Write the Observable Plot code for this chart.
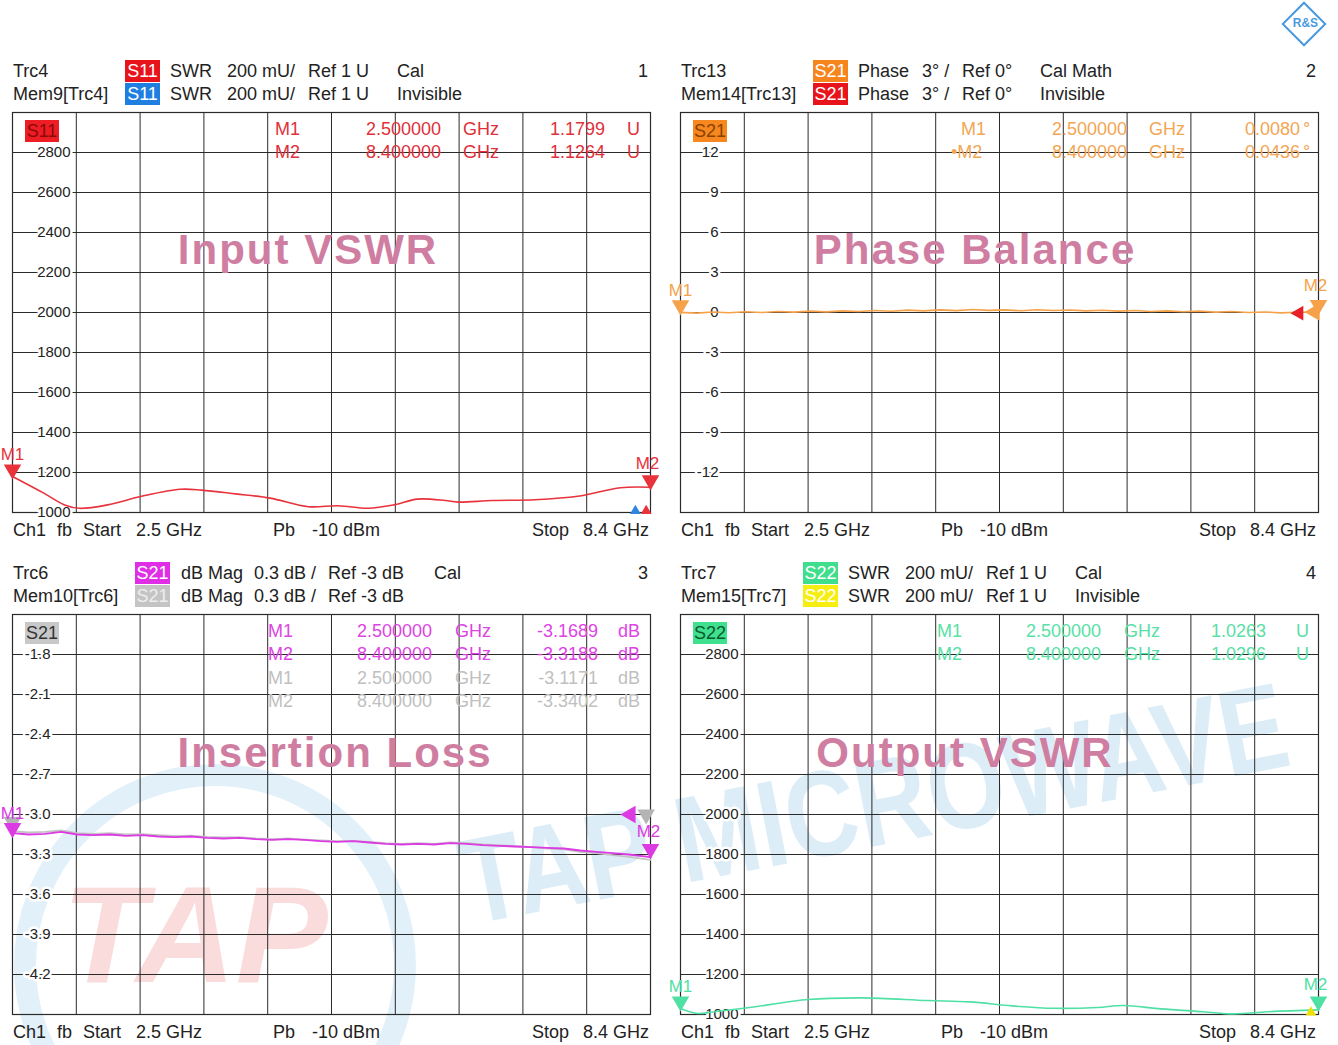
<!DOCTYPE html>
<html><head><meta charset="utf-8">
<script src="https://cdn.jsdelivr.net/npm/d3@7"></script>
<script src="https://cdn.jsdelivr.net/npm/@observablehq/plot@0.6"></script>
<style>
body{margin:0;background:#fff;}
#wrap{position:relative;width:1338px;height:1045px;overflow:hidden;font-family:"Liberation Sans",Arial,sans-serif;color:#222;background:#fff;}
.t{position:absolute;font-size:18px;line-height:22px;white-space:pre;z-index:3;}
.b{position:absolute;height:22px;line-height:22px;font-size:18px;text-align:center;z-index:3;}
.plot{position:absolute;z-index:2;}
.title{position:absolute;font-weight:bold;font-size:42px;color:#cf7ea2;letter-spacing:2px;transform:translate(-50%,-50%);white-space:nowrap;z-index:3;}
#wm{position:absolute;left:0;top:0;z-index:1;}
#logo{position:absolute;left:1288px;top:8px;width:28px;height:28px;border:2px solid #4a9ae0;transform:rotate(45deg);z-index:3;}
#logo span{position:absolute;left:0;top:5px;width:28px;text-align:center;transform:rotate(-45deg);font-size:12px;font-weight:bold;color:#4a9ae0;}
</style></head>
<body>
<div id="wrap">
<svg id="wm" width="1338" height="1045">
  <circle cx="215" cy="965" r="190" fill="none" stroke="#9fd0ea" stroke-opacity="0.3" stroke-width="22"/>
  <text x="62" y="982" font-size="138" font-weight="bold" font-style="italic" fill="#f08c8c" fill-opacity="0.3" font-family="Liberation Sans">TAP</text>
  <text transform="translate(470,925) rotate(-11) scale(0.82,1)" font-size="122" font-weight="bold" fill="#8cc4e6" fill-opacity="0.3" font-family="Liberation Sans">TAP MICROWAVE</text>
</svg>
<div id="logo"><span>R&amp;S</span></div>
</div>
<script>
// ---------- data ----------
const fStart = 2.5, fStop = 8.4;
const xGrid = [2.5, 3.09, 3.68, 4.27, 4.86, 5.45, 6.04, 6.63, 7.22, 7.81, 8.4];

const swrTicks = [1000, 1200, 1400, 1600, 1800, 2000, 2200, 2400, 2600, 2800];
const phaseTicks = [-12, -9, -6, -3, 0, 3, 6, 9, 12];
const dbTicks = [-4.2, -3.9, -3.6, -3.3, -3.0, -2.7, -2.4, -2.1, -1.8];

// Input VSWR (S11), milli-units
const s11F = [2.5, 2.785, 2.982, 3.121, 3.378, 3.694, 4.05, 4.248, 4.564, 4.881, 5.236, 5.513, 5.79, 6.027, 6.245, 6.502, 6.621, 6.937, 7.332, 7.728, 8.123, 8.4];
const s11V = [1180, 1098, 1038, 1021, 1038, 1081, 1116, 1112, 1093, 1072, 1029, 1034, 1021, 1038, 1067, 1060, 1052, 1060, 1064, 1081, 1124, 1126];

// Phase balance (S21), degrees
const phF = [2.5, 2.65, 2.8, 2.95, 3.1, 3.25, 3.4, 3.55, 3.7, 3.85, 4.0, 4.15, 4.3, 4.45, 4.6, 4.75, 4.9, 5.05, 5.2, 5.35, 5.5, 5.65, 5.8, 5.95, 6.1, 6.25, 6.4, 6.55, 6.7, 6.85, 7.0, 7.15, 7.3, 7.45, 7.6, 7.75, 7.9, 8.05, 8.2, 8.4];
const phV = [0.01, -0.05, 0.04, -0.02, 0.06, 0.0, 0.08, 0.03, 0.1, 0.05, 0.12, 0.07, 0.15, 0.09, 0.18, 0.12, 0.2, 0.14, 0.22, 0.16, 0.2, 0.13, 0.21, 0.15, 0.19, 0.12, 0.17, 0.1, 0.15, 0.08, 0.12, 0.06, 0.1, 0.03, 0.07, 0.0, 0.04, -0.03, 0.02, 0.04];

// Insertion loss (S21 dB), trace and memory
const ilF = [2.5, 2.65, 2.8, 2.95, 3.1, 3.25, 3.4, 3.55, 3.7, 3.85, 4.0, 4.15, 4.3, 4.45, 4.6, 4.75, 4.9, 5.05, 5.2, 5.35, 5.5, 5.65, 5.8, 5.95, 6.1, 6.25, 6.4, 6.55, 6.7, 6.85, 7.0, 7.15, 7.3, 7.45, 7.6, 7.75, 7.9, 8.05, 8.2, 8.4];
const ilV = [-3.14, -3.15, -3.145, -3.13, -3.15, -3.155, -3.15, -3.16, -3.155, -3.165, -3.17, -3.165, -3.175, -3.18, -3.175, -3.185, -3.19, -3.185, -3.19, -3.2, -3.205, -3.2, -3.21, -3.22, -3.225, -3.22, -3.225, -3.215, -3.22, -3.23, -3.235, -3.24, -3.245, -3.25, -3.255, -3.27, -3.28, -3.29, -3.3, -3.32];
const ilMem = [-3.125, -3.135, -3.13, -3.12, -3.14, -3.145, -3.14, -3.15, -3.148, -3.155, -3.16, -3.158, -3.168, -3.172, -3.17, -3.18, -3.185, -3.18, -3.188, -3.195, -3.2, -3.198, -3.205, -3.215, -3.22, -3.215, -3.22, -3.21, -3.215, -3.225, -3.23, -3.238, -3.245, -3.255, -3.262, -3.28, -3.29, -3.305, -3.318, -3.34];

// Output VSWR (S22), milli-units
const s22F = [2.5, 2.657, 2.815, 3.208, 3.68, 4.191, 4.781, 5.175, 5.568, 5.961, 6.355, 6.591, 6.945, 7.338, 7.613, 7.928, 8.4];
const s22V = [1030, 1005, 1014, 1040, 1075, 1083, 1070, 1063, 1043, 1031, 1035, 1045, 1028, 1014, 1003, 1014, 1023];

// ---------- helpers ----------
const wrap = document.getElementById("wrap");
function txt(s, x, y, opt = {}) {
  const d = document.createElement("div");
  d.className = "t";
  d.textContent = s;
  d.style.top = (y - 11) + "px";
  if (opt.end) d.style.right = (1338 - x) + "px"; else d.style.left = x + "px";
  if (opt.color) d.style.color = opt.color;
  if (opt.size) d.style.fontSize = opt.size + "px";
  wrap.appendChild(d);
}
function badge(s, x, y, bg, fg, w = 35) {
  const d = document.createElement("div");
  d.className = "b";
  d.textContent = s;
  d.style.left = x + "px"; d.style.top = (y - 11) + "px"; d.style.width = w + "px";
  d.style.background = bg; d.style.color = fg;
  wrap.appendChild(d);
}
function title(s, x, y) {
  const d = document.createElement("div");
  d.className = "title"; d.textContent = s;
  d.style.left = x + "px"; d.style.top = y + "px";
  wrap.appendChild(d);
}

function panel(o) {
  const data = o.f.map((f, i) => ({f, v: o.v[i]}));
  const marks = [
    Plot.ruleX(xGrid, {stroke: "#2a2a2a", strokeWidth: 1}),
    Plot.ruleY(o.grid, {stroke: "#2a2a2a", strokeWidth: 1}),
    Plot.frame({stroke: "#2a2a2a", strokeWidth: 1.2}),
    Plot.text(o.labels, {frameAnchor: "left", y: d => d, text: o.fmt, dx: o.dx, textAnchor: "end",
      fill: "#222", stroke: "white", strokeWidth: 5, paintOrder: "stroke", fontSize: 15})
  ];
  if (o.mem) {
    const md = o.f.map((f, i) => ({f, v: o.mem[i]}));
    marks.push(Plot.line(md, {x: "f", y: "v", stroke: o.memColor, strokeWidth: 1.8, curve: "linear"}));
  }
  marks.push(Plot.line(data, {x: "f", y: "v", stroke: o.color, strokeWidth: o.sw || 1.6, curve: o.curve || "linear"}));
  for (const m of o.markers) {
    marks.push(Plot.dot([m], {x: "f", y: "v", symbol: "triangle", rotate: m.rot, r: m.r || 6.5, fill: m.c, stroke: "none", dx: m.dx || 0, dy: m.dy || 0}));
    if (m.label) marks.push(Plot.text([m], {x: "f", y: "v", text: "label", fill: m.c, dy: m.ly, dx: m.lx || 0, fontSize: 17}));
  }
  const svg = Plot.plot({
    width: 669, height: 440,
    marginLeft: o.ml, marginRight: o.mr, marginTop: 12, marginBottom: 28,
    x: {domain: [fStart, fStop], axis: null},
    y: {domain: o.domain, axis: null},
    style: {background: "transparent", fontFamily: "Liberation Sans, Arial, sans-serif", overflow: "visible"},
    marks
  });
  svg.classList.add("plot");
  svg.style.left = o.left + "px"; svg.style.top = o.top + "px";
  svg.style.position = "absolute";
  wrap.appendChild(svg);
}

// ---------- panels ----------
const red = "#e8323c", orange = "#f5a24a", mag = "#dc3ae2", grey = "#b4b4b4", green = "#4fe0a4";

panel({left: 0, top: 100, ml: 12, mr: 19, domain: [1000, 3000], grid: swrTicks.slice(1), labels: swrTicks,
  fmt: d => String(d), dx: 58, f: s11F, v: s11V, color: red, curve: "catmull-rom",
  markers: [
    {f: 2.5, v: 1180, rot: 180, c: red, dy: -7, label: "M1", ly: -22},
    {f: 8.4, v: 1126, rot: 180, c: red, dy: -7, label: "M2", ly: -24, lx: -3},
    {f: 8.26, v: 1008, rot: 0, c: "#2f86e0", r: 4},
    {f: 8.36, v: 1008, rot: 0, c: red, r: 4}
  ]});

panel({left: 669, top: 100, ml: 11, mr: 20, domain: [-15, 15], grid: phaseTicks, labels: phaseTicks,
  fmt: d => String(d), dx: 38, f: phF, v: phV, color: orange,
  markers: [
    {f: 2.5, v: 0.01, rot: 180, c: orange, dy: -7, label: "M1", ly: -22},
    {f: 8.22, v: -0.05, rot: -90, c: "#e8202a", r: 5.5},
    {f: 8.4, v: 0.04, rot: -90, c: orange, dx: -4},
    {f: 8.4, v: 0.04, rot: 180, c: orange, dy: -7, label: "M2", ly: -26, lx: -3}
  ]});

panel({left: 0, top: 602, ml: 12, mr: 19, domain: [-4.5, -1.5], grid: dbTicks, labels: dbTicks,
  fmt: d => d.toFixed(1), dx: 38, f: ilF, v: ilV, mem: ilMem, memColor: "#c4c4c4", color: mag, sw: 1.9,
  markers: [
    {f: 2.5, v: -3.125, rot: 180, c: grey, dy: -9},
    {f: 2.5, v: -3.14, rot: 180, c: mag, dy: -5, label: "M1", ly: -20},
    {f: 8.215, v: -3.0, rot: -90, c: mag},
    {f: 8.36, v: -3.0, rot: 180, c: grey},
    {f: 8.4, v: -3.32, rot: 180, c: mag, dy: -8, label: "M2", ly: -26, lx: -2}
  ]});

panel({left: 669, top: 602, ml: 11, mr: 20, domain: [1000, 3000], grid: swrTicks.slice(1), labels: swrTicks,
  fmt: d => String(d), dx: 58, f: s22F, v: s22V, color: green, curve: "catmull-rom",
  markers: [
    {f: 2.5, v: 1030, rot: 180, c: green, dy: -7, label: "M1", ly: -22},
    {f: 8.33, v: 1010, rot: 0, c: "#f0e000", r: 4},
    {f: 8.4, v: 1030, rot: 180, c: green, dy: -7, label: "M2", ly: -24, lx: -3}
  ]});

// ---------- headers ----------
// panel 1
txt("Trc4", 13, 71); badge("S11", 125, 71, "#e8141c", "#fff");
txt("SWR", 170, 71); txt("200 mU/", 227, 71); txt("Ref 1 U", 308, 71); txt("Cal", 397, 71); txt("1", 648, 71, {end: true});
txt("Mem9[Trc4]", 13, 94); badge("S11", 125, 94, "#1e7fe0", "#fff");
txt("SWR", 170, 94); txt("200 mU/", 227, 94); txt("Ref 1 U", 308, 94); txt("Invisible", 397, 94);
// panel 2
txt("Trc13", 681, 71); badge("S21", 813, 71, "#f7851e", "#fff");
txt("Phase", 858, 71); txt("3° /", 922, 71); txt("Ref 0°", 962, 71); txt("Cal Math", 1040, 71); txt("2", 1316, 71, {end: true});
txt("Mem14[Trc13]", 681, 94); badge("S21", 813, 94, "#e8141c", "#fff");
txt("Phase", 858, 94); txt("3° /", 922, 94); txt("Ref 0°", 962, 94); txt("Invisible", 1040, 94);
// panel 3
txt("Trc6", 13, 573); badge("S21", 135, 573, "#e02ee6", "#fff");
txt("dB Mag", 181, 573); txt("0.3 dB /", 254, 573); txt("Ref -3 dB", 328, 573); txt("Cal", 434, 573); txt("3", 648, 573, {end: true});
txt("Mem10[Trc6]", 13, 596); badge("S21", 135, 596, "#c4c4c4", "#eee");
txt("dB Mag", 181, 596); txt("0.3 dB /", 254, 596); txt("Ref -3 dB", 328, 596);
// panel 4
txt("Trc7", 681, 573); badge("S22", 803, 573, "#3fde8c", "#fff");
txt("SWR", 848, 573); txt("200 mU/", 905, 573); txt("Ref 1 U", 986, 573); txt("Cal", 1075, 573); txt("4", 1316, 573, {end: true});
txt("Mem15[Trc7]", 681, 596); badge("S22", 803, 596, "#f6ee10", "#fff");
txt("SWR", 848, 596); txt("200 mU/", 905, 596); txt("Ref 1 U", 986, 596); txt("Invisible", 1075, 596);

// ---------- footers ----------
for (const [x0, y, r] of [[13, 530, 649], [681, 530, 1316], [13, 1032, 649], [681, 1032, 1316]]) {
  txt("Ch1", x0, y); txt("fb", x0 + 44, y); txt("Start", x0 + 70, y); txt("2.5 GHz", x0 + 123, y);
  txt("Pb", x0 + 260, y); txt("-10 dBm", x0 + 299, y);
  txt("Stop", r - 117, y); txt("8.4 GHz", r, y, {end: true});
}

// ---------- inner badges ----------
badge("S11", 25, 131, "#ee1c24", "#8a0a0a", 34);
badge("S21", 693, 131, "#f7871f", "#8a4200", 34);
badge("S21", 25, 633, "#c8c8c8", "#333", 34);
badge("S22", 693, 633, "#3fe08e", "#0b5a2e", 34);

// ---------- marker tables ----------
function mrow(y, m, f, val, unit, c, pos) {
  txt(m, pos[0], y, {color: c});
  txt(f, pos[1], y, {color: c, end: true});
  txt("GHz", pos[2], y, {color: c});
  txt(val, pos[3], y, {color: c, end: true});
  txt(unit, pos[4], y, {color: c});
}
const p1 = [275, 441, 463, 605, 627];
mrow(129, "M1", "2.500000", "1.1799", "U", "#e0303a", p1);
mrow(152, "M2", "8.400000", "1.1264", "U", "#e0303a", p1);
const p2 = [961, 1127, 1149, 1300, 1303];
mrow(129, "M1", "2.500000", "0.0080", "°", "#f2a654", p2);
mrow(152, "•M2", "8.400000", "0.0436", "°", "#f2a654", [951, 1127, 1149, 1300, 1303]);
const p3 = [268, 432, 455, 598, 618];
mrow(631, "M1", "2.500000", "-3.1689", "dB", "#dd44e4", p3);
mrow(654, "M2", "8.400000", "-3.3188", "dB", "#dd44e4", p3);
mrow(678, "M1", "2.500000", "-3.1171", "dB", "#c0c0c0", p3);
mrow(701, "M2", "8.400000", "-3.3402", "dB", "#c0c0c0", p3);
const p4 = [937, 1101, 1124, 1266, 1296];
mrow(631, "M1", "2.500000", "1.0263", "U", "#58e0a6", p4);
mrow(654, "M2", "8.400000", "1.0296", "U", "#58e0a6", p4);

// ---------- titles ----------
title("Input VSWR", 308, 250);
title("Phase Balance", 975, 250);
title("Insertion Loss", 335, 753);
title("Output VSWR", 965, 753);
</script>
</body></html>
